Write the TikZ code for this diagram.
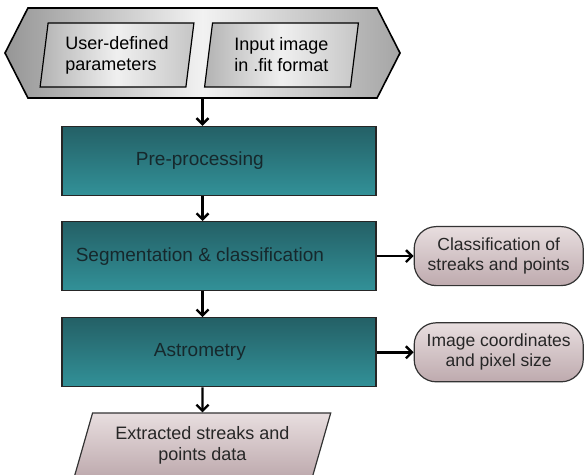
\documentclass[tikz,border=0pt]{standalone}
\usepackage{fontspec}
\setmainfont{Liberation Sans}
\usetikzlibrary{positioning,shapes.geometric,shapes.symbols}
\usetikzlibrary{arrows.meta}

\definecolor{tealtop}{RGB}{36,96,102}
\definecolor{tealbot}{RGB}{50,145,152}
\definecolor{tealtext}{RGB}{22,40,44}
\definecolor{hexside}{RGB}{150,150,150}
\definecolor{hexmid}{RGB}{242,242,242}
\definecolor{mauvetop}{RGB}{232,222,223}
\definecolor{mauvebot}{RGB}{190,170,174}

\begin{document}
\begin{tikzpicture}[x=1pt,y=1pt]
\tikzset{
    every node/.style = {align=center, inner sep=0pt, font=\fontsize{18}{21}\selectfont},
    flow/.style = {-{Straight Barb[length=6pt,width=12pt]}, line width=2.4pt},
    hexbox/.style = {draw, line width=1.6pt, signal, signal to=west and east,
        signal pointer angle=126, left color=hexside, right color=hexside!85,
        middle color=hexmid, minimum width=395pt, minimum height=90pt},
    inbox/.style = {draw, line width=1.2pt, trapezium, trapezium stretches=true,
        trapezium left angle=81, trapezium right angle=99, align=left,
        left color=gray!60, right color=gray!45, middle color=gray!12,
        minimum width=154pt, minimum height=64pt},
    procbox/.style = {draw=black!85, line width=1.2pt, rectangle, text=tealtext,
        top color=tealtop, bottom color=tealbot,
        font=\fontsize{19}{22}\selectfont,
        execute at end node={\hspace*{33pt}},
        minimum width=314pt, minimum height=69pt},
    resbox/.style = {draw=black!80, line width=1.2pt, rectangle, rounded corners=22pt,
        top color=mauvetop, bottom color=mauvebot, text=black!85,
        font=\fontsize{17.5}{20}\selectfont,
        minimum width=169pt, minimum height=59pt},
    outbox/.style = {draw=black!80, line width=1.2pt, trapezium, trapezium stretches=true,
        trapezium left angle=69, trapezium right angle=111,
        top color=mauvetop, bottom color=mauvebot, text=black!85,
        minimum width=257pt, minimum height=64pt}
}
\useasboundingbox (0,0) rectangle (585,474);

% -------------------------------------------------------
\node[hexbox] (hexa) at (202.5,421) {};

\node[inbox] (param) at (117,419) {
    User-defined\\
    parameters
};

\node[inbox] (image) at (281.5,419) {
    Input image\\
    in .fit format
};

\node[procbox, below=27pt] (pre) at ([xshift=16.5pt]hexa.south) {
    Pre-processing
};

\node[procbox, below=25pt of pre] (seg) {
    Segmentation \& classification
};

\node[procbox, below=26pt of seg] (astro) {
    Astrometry
};

\node[resbox, right=37pt of seg] (classes) {
    Classification of\\
    streaks and points
};

\node[resbox, right=37pt of astro] (coords) {
    Image coordinates\\
    and pixel size
};

\node[outbox, below=25pt] (data) at (astro.south -| hexa.south) {
    Extracted streaks and\\
    points data
};

% -------------------------------------------------------
\path[flow] (hexa.south) edge (hexa.south |- pre.north);
\path[flow] (hexa.south |- pre.south) edge (hexa.south |- seg.north);
\path[flow] (hexa.south |- seg.south) edge (hexa.south |- astro.north);
\path[flow] (hexa.south |- astro.south) edge (data);

\path[flow] (seg) edge (classes);
\path[flow] (astro) edge (coords);
\end{tikzpicture}
\end{document}
